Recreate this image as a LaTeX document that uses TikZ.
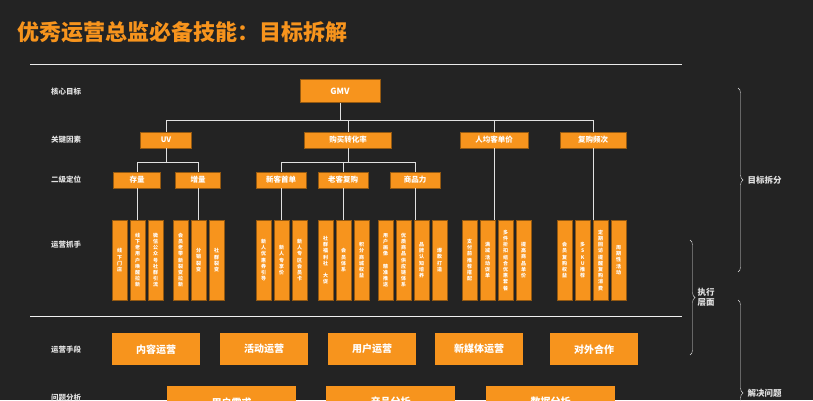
\documentclass[tikz,border=0pt]{standalone}
\usepackage{fontspec}
\setmainfont{Noto Sans CJK SC}
\usetikzlibrary{decorations.pathreplacing}
\definecolor{bg}{RGB}{35,35,35}
\definecolor{org}{RGB}{247,148,29}
\definecolor{lbl}{RGB}{225,225,225}
\tikzset{
  lv/.style={fill=org,draw=org!60!black,text=white,font=\fontsize{7.5}{8}\selectfont\bfseries,inner sep=0pt,minimum height=16pt},
  tall/.style={fill=org,draw=org!60!black,text=white,font=\fontsize{5}{6.2}\selectfont\bfseries,inner sep=0pt,minimum width=15pt,minimum height=80pt,align=center,anchor=north west},
  big/.style={fill=org,text=white,font=\fontsize{10}{11}\selectfont\bfseries,inner sep=0pt,minimum width=88pt,minimum height=32pt,anchor=north west},
  side/.style={text=lbl,font=\fontsize{7.5}{8}\selectfont\bfseries},
  wire/.style={draw=lbl,line width=0.6pt},
  brc/.style={draw=lbl,decorate,decoration={brace,amplitude=5pt}}
}
\begin{document}
\begin{tikzpicture}[x=1pt,y=-1pt]
  \fill[bg] (0,0) rectangle (813,400);
  \useasboundingbox (0,0) rectangle (813,400);
  \node[anchor=west,text=org,font=\fontsize{22}{24}\selectfont\bfseries] (title) at (14,32) {优秀运营总监必备技能：目标拆解};
  \draw[lbl!70,line width=0.5pt] (30,64) -- (682,64);
  \draw[lbl!50,line width=0.5pt] (30,316) -- (682,316);

  % left labels
  \node[side] (s1) at (66,92)  {核心目标};
  \node[side] (s2) at (66,140) {关键因素};
  \node[side] (s3) at (66,180) {二级定位};
  \node[side] (s4) at (66,245) {运营抓手};
  \node[side] (s5) at (66,350) {运营手段};
  \node[side] (s6) at (66,398) {问题分析};

  % levels
  \node[lv,minimum width=80pt,minimum height=23pt,font=\fontsize{8.5}{9}\selectfont\bfseries] (gmv) at (340,91) {GMV};
  \node[lv,minimum width=51pt] (uv)  at (166,140) {UV};
  \node[lv,minimum width=87pt] (cvr) at (348,140) {购买转化率};
  \node[lv,minimum width=68pt] (arpu) at (494,140) {人均客单价};
  \node[lv,minimum width=66pt] (freq) at (593,140) {复购频次};
  \node[lv,minimum width=47pt] (stock) at (137,180) {存量};
  \node[lv,minimum width=45pt] (incr)  at (198,180) {增量};
  \node[lv,minimum width=50pt] (newc)  at (281,180) {新客首单};
  \node[lv,minimum width=50pt] (oldc)  at (343,180) {老客复购};
  \node[lv,minimum width=50pt] (prod)  at (415,180) {商品力};

  % tall boxes
  \foreach \x/\t [count=\i] in {
    112/线\\下\\门\\店, 130/线\\下\\老\\用\\户\\唤\\醒\\拉\\新, 148/微\\信\\公\\众\\号\\社\\群\\引\\流,
    173/会\\员\\老\\带\\新\\裂\\变\\拉\\新, 191/分\\销\\裂\\变, 209/社\\群\\裂\\变,
    256/新\\人\\优\\惠\\券\\引\\导, 274/新\\人\\专\\享\\价, 292/新\\人\\专\\区\\会\\员\\卡,
    318/社\\群\\福\\利\\社\\\ \\大\\促, 336/会\\员\\体\\系, 354/积\\分\\商\\城\\权\\益,
    378/用\\户\\画\\像\\\ \\精\\准\\推\\送, 396/优\\质\\商\\品\\供\\应\\链\\体\\系, 414/品\\牌\\认\\知\\培\\养, 432/爆\\款\\打\\造,
    462/支\\付\\前\\推\\荐\\搭\\配, 480/满\\减\\活\\动\\促\\单, 498/多\\件\\折\\扣\\组\\合\\优\\惠\\套\\餐, 516/提\\高\\商\\品\\单\\价,
    557/会\\员\\复\\购\\权\\益, 575/多\\S\\K\\U\\推\\荐, 593/定\\期\\回\\访\\提\\醒\\复\\购\\消\\费, 611/周\\期\\性\\活\\动}
    \node[tall] (t\i) at (\x,220) {\t};

  % wires
  \draw[wire] (gmv.south) -- (340,120) (166,120) -- (593,120);
  \foreach \n in {uv,cvr,arpu,freq} \draw[wire] (\n.north |- 0,120) -- (\n.north);
  \draw[wire] (uv.south) -- (166,162) (137,162) -- (198,162);
  \draw[wire] (cvr.south) -- (348,162) (281,162) -- (415,162);
  \foreach \n in {stock,incr,newc,oldc,prod} \draw[wire] (\n.north |- 0,162) -- (\n.north);
  \draw[wire] (stock.south) -- (stock.south |- t2.north);
  \draw[wire] (incr.south) -- (incr.south |- t5.north);
  \draw[wire] (newc.south) -- (newc.south |- t8.north);
  \draw[wire] (oldc.south) -- (oldc.south |- t11.north);
  \draw[wire] (prod.south) -- (prod.south |- t15.north);
  \draw[wire] (arpu.south) -- (arpu.south |- t19.north);
  \draw[wire] (freq.south) -- (freq.south |- t23.north);

  % means
  \foreach \x/\t [count=\i] in {112/内容运营,220/活动运营,328/用户运营,435/新媒体运营,550/对外合作}
    \node[big] (m\i) at (\x,333) {\t};
  \foreach \x/\t [count=\i] in {167/用户需求,326/产品分析,486/数据分析}
    \node[big,minimum width=129pt] (p\i) at (\x,386) {\t};

  % braces
  \draw[brc] (738,88) -- (738,272) coordinate[midway] (b1);
  \node[side,anchor=west,font=\fontsize{8.5}{9}\selectfont\bfseries] (goal) at ([xshift=6pt]b1) {目标拆分};
  \draw[brc] (690,240) -- (690,355) coordinate[midway] (b2);
  \node[side,anchor=west,align=center,font=\fontsize{8.5}{10}\selectfont\bfseries] (exe) at ([xshift=4pt]b2) {执行\\层面};
  \draw[brc] (738,300) -- (738,486) coordinate[midway] (b3);
  \node[side,anchor=west,font=\fontsize{8.5}{9}\selectfont\bfseries] (solve) at ([xshift=6pt]b3) {解决问题};
\end{tikzpicture}
\end{document}
